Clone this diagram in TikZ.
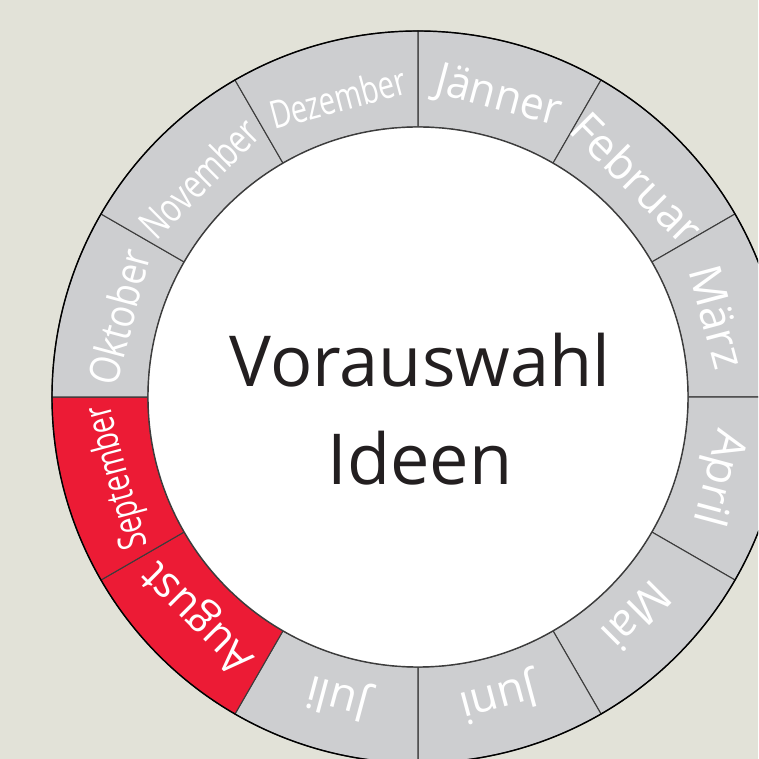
\documentclass[tikz,border=0pt]{standalone}
\usepackage{fontspec}
\setmainfont{Open Sans}
\usepackage{graphicx}
\definecolor{bggray}{HTML}{E2E2D8}
\definecolor{ringgray}{HTML}{CDCED0}
\definecolor{ringred}{HTML}{EC1B35}
\definecolor{linegray}{HTML}{3C3C3C}
\definecolor{textdark}{HTML}{231F20}
\tikzstyle{sector} = [fill=ringgray, draw=linegray, line width=0.6pt]
\tikzstyle{sectorred} = [sector, fill=ringred]
\tikzstyle{monthlabel} = [text=white, inner sep=0pt, anchor=center]
\tikzstyle{centretext} = [text=textdark, align=center, inner sep=0pt, font=\fontsize{40}{55.8}\selectfont]

\begin{document}
\begin{tikzpicture}[x=0.02cm, y=0.02cm]

% Background
\useasboundingbox (-418,-362) rectangle (340,397);
\fill[bggray] (-418,-362) rectangle (340,397);
\clip (-418,-362) rectangle (340,397);

% Ring
\foreach \a/\s in {60/sector, 30/sector, 0/sector, -30/sector, -60/sector, -90/sector,
                   -120/sector, -150/sectorred, 180/sectorred, 150/sector, 120/sector, 90/sector}{
    \pgfmathsetmacro{\b}{\a+30}
    \draw[\s] (\a:366) arc[start angle=\a, end angle=\b, radius=366]
        -- (\b:270) arc[start angle=\b, end angle=\a, radius=270] -- cycle;
}
\draw[black, line width=0.8pt] (0,0) circle[radius=366];
\draw[linegray, line width=0.8pt, fill=white] (0,0) circle[radius=270];

% Nodes
\node (centre) [centretext] at (2,-12) {Vorauswahl\\Ideen};

\foreach \n/\t/\ang/\sz/\sx in {jan/Jänner/75/25.5/0.95, feb/Februar/45/25.5/1,
        mar/März/15/25.5/1, apr/April/-15/25.5/1, mai/Mai/-45/25.5/1,
        jun/Juni/-75/25.5/1, jul/Juli/-105/25.5/1, aug/August/-135/25.5/0.95,
        sep/September/195/22/0.74, okt/Oktober/165/24/0.85,
        nov/November/135/23/0.76, dez/Dezember/105/22/0.75}{
    \pgfmathsetmacro{\rot}{\ang-90}
    \node (\n) [monthlabel, rotate=\rot, font=\fontsize{\sz}{\sz}\selectfont]
        at (\ang:310) {\scalebox{\sx}[1]{\t}};
}

\end{tikzpicture}
\end{document}
